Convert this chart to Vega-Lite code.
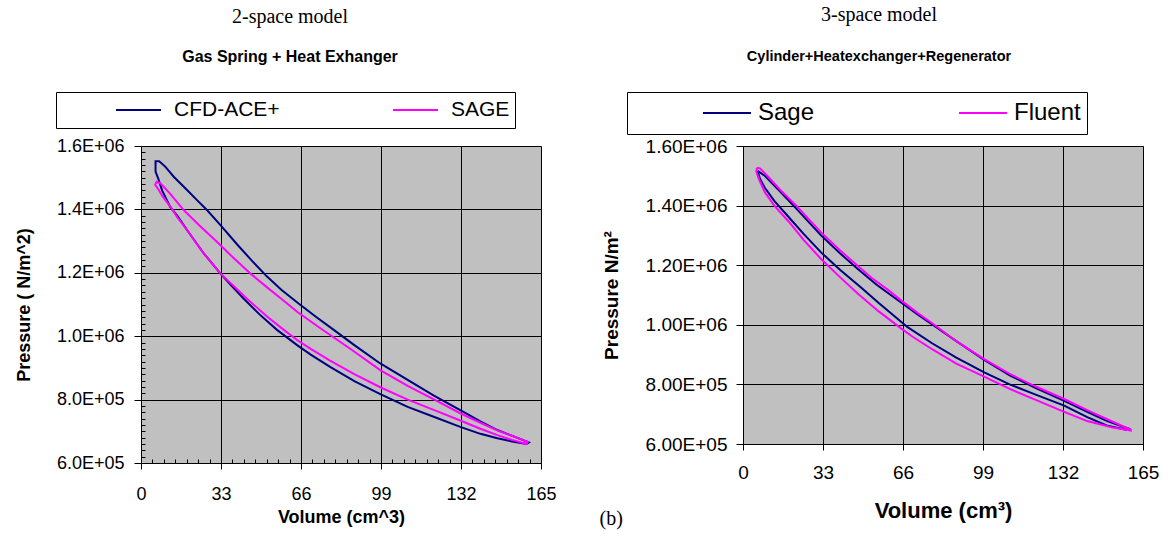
{
  "$schema": "https://vega.github.io/schema/vega-lite/v6.json",
  "background": "white",
  "padding": {"left": 14, "top": 4, "right": 5, "bottom": 5},
  "spacing": 41,
  "resolve": {"scale": {"color": "independent"}, "legend": {"color": "independent"}},
  "datasets": {
    "left": [
      {"s":"CFD-ACE+","i":0,"V":6.0,"P":1545000},{"s":"CFD-ACE+","i":1,"V":6.0,"P":1552000},{"s":"CFD-ACE+","i":2,"V":7.5,"P":1552000},{"s":"CFD-ACE+","i":3,"V":10,"P":1535000},{"s":"CFD-ACE+","i":4,"V":13.5,"P":1503000},{"s":"CFD-ACE+","i":5,"V":19,"P":1461000},{"s":"CFD-ACE+","i":6,"V":23,"P":1430000},{"s":"CFD-ACE+","i":7,"V":27.2,"P":1398000},{"s":"CFD-ACE+","i":8,"V":32.7,"P":1351000},{"s":"CFD-ACE+","i":9,"V":39.6,"P":1290000},{"s":"CFD-ACE+","i":10,"V":46,"P":1236000},{"s":"CFD-ACE+","i":11,"V":52,"P":1188000},{"s":"CFD-ACE+","i":12,"V":58,"P":1146000},{"s":"CFD-ACE+","i":13,"V":65,"P":1103000},{"s":"CFD-ACE+","i":14,"V":72,"P":1062000},{"s":"CFD-ACE+","i":15,"V":79.5,"P":1020000},{"s":"CFD-ACE+","i":16,"V":88,"P":972000},{"s":"CFD-ACE+","i":17,"V":98.7,"P":914000},{"s":"CFD-ACE+","i":18,"V":110,"P":862000},{"s":"CFD-ACE+","i":19,"V":121,"P":812000},{"s":"CFD-ACE+","i":20,"V":131.7,"P":767000},{"s":"CFD-ACE+","i":21,"V":140,"P":731000},{"s":"CFD-ACE+","i":22,"V":147,"P":704000},{"s":"CFD-ACE+","i":23,"V":154,"P":683000},{"s":"CFD-ACE+","i":24,"V":160,"P":665000},{"s":"CFD-ACE+","i":25,"V":159,"P":660000},{"s":"CFD-ACE+","i":26,"V":153,"P":668000},{"s":"CFD-ACE+","i":27,"V":147,"P":678000},{"s":"CFD-ACE+","i":28,"V":140,"P":692000},{"s":"CFD-ACE+","i":29,"V":131.7,"P":714000},{"s":"CFD-ACE+","i":30,"V":121,"P":745000},{"s":"CFD-ACE+","i":31,"V":110,"P":777000},{"s":"CFD-ACE+","i":32,"V":98.7,"P":817000},{"s":"CFD-ACE+","i":33,"V":88,"P":858000},{"s":"CFD-ACE+","i":34,"V":78,"P":903000},{"s":"CFD-ACE+","i":35,"V":70,"P":942000},{"s":"CFD-ACE+","i":36,"V":64.4,"P":972000},{"s":"CFD-ACE+","i":37,"V":56.1,"P":1020000},{"s":"CFD-ACE+","i":38,"V":49,"P":1068000},{"s":"CFD-ACE+","i":39,"V":42.4,"P":1118000},{"s":"CFD-ACE+","i":40,"V":37,"P":1162000},{"s":"CFD-ACE+","i":41,"V":32.7,"P":1198000},{"s":"CFD-ACE+","i":42,"V":25.9,"P":1261000},{"s":"CFD-ACE+","i":43,"V":19,"P":1335000},{"s":"CFD-ACE+","i":44,"V":15,"P":1380000},{"s":"CFD-ACE+","i":45,"V":12.1,"P":1407000},{"s":"CFD-ACE+","i":46,"V":8.7,"P":1460000},{"s":"CFD-ACE+","i":47,"V":7.3,"P":1493000},{"s":"CFD-ACE+","i":48,"V":6,"P":1519000},{"s":"CFD-ACE+","i":49,"V":6,"P":1545000},
      {"s":"SAGE","i":0,"V":5.9,"P":1480000},{"s":"SAGE","i":1,"V":6.5,"P":1487000},{"s":"SAGE","i":2,"V":8,"P":1482000},{"s":"SAGE","i":3,"V":12,"P":1450000},{"s":"SAGE","i":4,"V":17.6,"P":1398000},{"s":"SAGE","i":5,"V":24,"P":1350000},{"s":"SAGE","i":6,"V":31.3,"P":1298000},{"s":"SAGE","i":7,"V":38,"P":1248000},{"s":"SAGE","i":8,"V":45.1,"P":1198000},{"s":"SAGE","i":9,"V":52,"P":1154000},{"s":"SAGE","i":10,"V":58.9,"P":1112000},{"s":"SAGE","i":11,"V":64.4,"P":1077000},{"s":"SAGE","i":12,"V":74,"P":1025000},{"s":"SAGE","i":13,"V":86,"P":962000},{"s":"SAGE","i":14,"V":98.7,"P":893000},{"s":"SAGE","i":15,"V":110,"P":843000},{"s":"SAGE","i":16,"V":121,"P":800000},{"s":"SAGE","i":17,"V":131.7,"P":757000},{"s":"SAGE","i":18,"V":140,"P":727000},{"s":"SAGE","i":19,"V":147,"P":703000},{"s":"SAGE","i":20,"V":154,"P":683000},{"s":"SAGE","i":21,"V":159.5,"P":667000},{"s":"SAGE","i":22,"V":159,"P":660000},{"s":"SAGE","i":23,"V":153,"P":673000},{"s":"SAGE","i":24,"V":147,"P":688000},{"s":"SAGE","i":25,"V":140,"P":708000},{"s":"SAGE","i":26,"V":131.7,"P":734000},{"s":"SAGE","i":27,"V":121,"P":767000},{"s":"SAGE","i":28,"V":110,"P":800000},{"s":"SAGE","i":29,"V":98.7,"P":839000},{"s":"SAGE","i":30,"V":88,"P":880000},{"s":"SAGE","i":31,"V":78,"P":923000},{"s":"SAGE","i":32,"V":70,"P":960000},{"s":"SAGE","i":33,"V":64.4,"P":988000},{"s":"SAGE","i":34,"V":58.9,"P":1020000},{"s":"SAGE","i":35,"V":52,"P":1062000},{"s":"SAGE","i":36,"V":43.7,"P":1118000},{"s":"SAGE","i":37,"V":38,"P":1160000},{"s":"SAGE","i":38,"V":32.7,"P":1198000},{"s":"SAGE","i":39,"V":25,"P":1270000},{"s":"SAGE","i":40,"V":19,"P":1335000},{"s":"SAGE","i":41,"V":15,"P":1375000},{"s":"SAGE","i":42,"V":12.1,"P":1409000},{"s":"SAGE","i":43,"V":9,"P":1440000},{"s":"SAGE","i":44,"V":7,"P":1465000},{"s":"SAGE","i":45,"V":5.9,"P":1477000},{"s":"SAGE","i":46,"V":5.9,"P":1480000}
    ],
    "right": [
      {"s":"Sage","i":0,"V":6,"P":1517000},{"s":"Sage","i":1,"V":9,"P":1500000},{"s":"Sage","i":2,"V":15,"P":1450000},{"s":"Sage","i":3,"V":22,"P":1390000},{"s":"Sage","i":4,"V":32.2,"P":1300000},{"s":"Sage","i":5,"V":40,"P":1240000},{"s":"Sage","i":6,"V":47,"P":1190000},{"s":"Sage","i":7,"V":55,"P":1135000},{"s":"Sage","i":8,"V":65.2,"P":1075000},{"s":"Sage","i":9,"V":72,"P":1035000},{"s":"Sage","i":10,"V":80,"P":990000},{"s":"Sage","i":11,"V":88,"P":945000},{"s":"Sage","i":12,"V":99.5,"P":882000},{"s":"Sage","i":13,"V":110,"P":830000},{"s":"Sage","i":14,"V":121,"P":787000},{"s":"Sage","i":15,"V":132.5,"P":745000},{"s":"Sage","i":16,"V":142,"P":708000},{"s":"Sage","i":17,"V":150,"P":678000},{"s":"Sage","i":18,"V":156,"P":660000},{"s":"Sage","i":19,"V":159,"P":652000},{"s":"Sage","i":20,"V":158,"P":648000},{"s":"Sage","i":21,"V":150,"P":662000},{"s":"Sage","i":22,"V":142,"P":690000},{"s":"Sage","i":23,"V":132.5,"P":729000},{"s":"Sage","i":24,"V":121,"P":765000},{"s":"Sage","i":25,"V":110,"P":800000},{"s":"Sage","i":26,"V":99.5,"P":840000},{"s":"Sage","i":27,"V":88,"P":890000},{"s":"Sage","i":28,"V":78,"P":938000},{"s":"Sage","i":29,"V":67.9,"P":992000},{"s":"Sage","i":30,"V":56,"P":1073000},{"s":"Sage","i":31,"V":48.7,"P":1125000},{"s":"Sage","i":32,"V":40,"P":1185000},{"s":"Sage","i":33,"V":32.2,"P":1243000},{"s":"Sage","i":34,"V":25,"P":1305000},{"s":"Sage","i":35,"V":19,"P":1360000},{"s":"Sage","i":36,"V":12.9,"P":1416000},{"s":"Sage","i":37,"V":9,"P":1460000},{"s":"Sage","i":38,"V":7,"P":1490000},{"s":"Sage","i":39,"V":6,"P":1517000},
      {"s":"Fluent","i":0,"V":5.8,"P":1527000},{"s":"Fluent","i":1,"V":7,"P":1525000},{"s":"Fluent","i":2,"V":10,"P":1500000},{"s":"Fluent","i":3,"V":15.7,"P":1450000},{"s":"Fluent","i":4,"V":22,"P":1400000},{"s":"Fluent","i":5,"V":32.2,"P":1310000},{"s":"Fluent","i":6,"V":40,"P":1250000},{"s":"Fluent","i":7,"V":47.3,"P":1198000},{"s":"Fluent","i":8,"V":53,"P":1158000},{"s":"Fluent","i":9,"V":59.7,"P":1118000},{"s":"Fluent","i":10,"V":65.2,"P":1082000},{"s":"Fluent","i":11,"V":72,"P":1040000},{"s":"Fluent","i":12,"V":78.9,"P":1000000},{"s":"Fluent","i":13,"V":88,"P":945000},{"s":"Fluent","i":14,"V":99.5,"P":885000},{"s":"Fluent","i":15,"V":110,"P":835000},{"s":"Fluent","i":16,"V":121,"P":792000},{"s":"Fluent","i":17,"V":132.5,"P":751000},{"s":"Fluent","i":18,"V":142,"P":714000},{"s":"Fluent","i":19,"V":150,"P":684000},{"s":"Fluent","i":20,"V":156,"P":662000},{"s":"Fluent","i":21,"V":160,"P":648000},{"s":"Fluent","i":22,"V":160,"P":645000},{"s":"Fluent","i":23,"V":152,"P":656000},{"s":"Fluent","i":24,"V":142,"P":677000},{"s":"Fluent","i":25,"V":132.5,"P":708000},{"s":"Fluent","i":26,"V":121,"P":747000},{"s":"Fluent","i":27,"V":110,"P":785000},{"s":"Fluent","i":28,"V":99.5,"P":826000},{"s":"Fluent","i":29,"V":88,"P":870000},{"s":"Fluent","i":30,"V":78,"P":918000},{"s":"Fluent","i":31,"V":70,"P":960000},{"s":"Fluent","i":32,"V":65.2,"P":988000},{"s":"Fluent","i":33,"V":56,"P":1045000},{"s":"Fluent","i":34,"V":47.3,"P":1105000},{"s":"Fluent","i":35,"V":40,"P":1160000},{"s":"Fluent","i":36,"V":32.2,"P":1221000},{"s":"Fluent","i":37,"V":25,"P":1285000},{"s":"Fluent","i":38,"V":19,"P":1345000},{"s":"Fluent","i":39,"V":12.9,"P":1400000},{"s":"Fluent","i":40,"V":9,"P":1445000},{"s":"Fluent","i":41,"V":6.5,"P":1490000},{"s":"Fluent","i":42,"V":5.5,"P":1515000},{"s":"Fluent","i":43,"V":5.8,"P":1527000}
    ]
  },
  "hconcat": [
    {
      "width": 400,
      "height": 317,
      "data": {"name": "left"},
      "title": {
        "text": "2-space model",
        "subtitle": "Gas Spring + Heat Exhanger",
        "anchor": "middle",
        "frame": "group",
        "dx": -51,
        "font": "Liberation Serif",
        "fontSize": 20,
        "fontWeight": "normal",
        "color": "black",
        "subtitleFont": "Liberation Sans",
        "subtitleFontSize": 16,
        "subtitleFontWeight": "bold",
        "subtitleColor": "black",
        "subtitlePadding": 22,
        "offset": 27
      },
      "layer": [
        {
          "mark": {"type": "line", "strokeWidth": 2, "interpolate": "linear"},
          "encoding": {
            "x": {
              "field": "V", "type": "quantitative",
              "scale": {"domain": [0, 165], "nice": false, "zero": false},
              "axis": {
                "orient": "bottom",
                "values": [0, 33, 66, 99, 132, 165],
                "grid": true, "gridColor": "black", "gridWidth": 1, "gridOpacity": 1,
                "domainColor": "black", "domainWidth": 1,
                "tickColor": "black", "tickSize": 6,
                "labelFont": "Liberation Sans", "labelFontSize": 18, "labelColor": "black",
                "labelPadding": 16, "labelFlush": false, "labelOverlap": false,
                "title": "Volume (cm^3)",
                "titleFont": "Liberation Sans", "titleFontSize": 18, "titleFontWeight": "bold", "titleColor": "black",
                "titlePadding": 5
              }
            },
            "y": {
              "field": "P", "type": "quantitative",
              "scale": {"domain": [600000, 1600000], "nice": false, "zero": false},
              "axis": {
                "orient": "left",
                "values": [600000, 800000, 1000000, 1200000, 1400000, 1600000],
                "labelExpr": "replace(upper(format(datum.value, '.1e')), 'E+', 'E+0')",
                "grid": true, "gridColor": "black", "gridWidth": 1, "gridOpacity": 1,
                "domainColor": "black", "domainWidth": 1,
                "tickColor": "black", "tickSize": 7,
                "labelFont": "Liberation Sans", "labelFontSize": 18, "labelColor": "black",
                "labelPadding": 10, "labelOverlap": false,
                "title": "Pressure ( N/m^2)",
                "titleFont": "Liberation Sans", "titleFontSize": 18, "titleFontWeight": "bold", "titleColor": "black",
                "titlePadding": 23
              }
            },
            "color": {
              "field": "s", "type": "nominal",
              "scale": {"domain": ["CFD-ACE+", "SAGE"], "range": ["#000080", "#FF00FF"]},
              "legend": {
                "orient": "none", "legendX": -85, "legendY": -54,
                "direction": "horizontal", "columns": 2, "title": null,
                "strokeColor": "black", "fillColor": "white", "padding": 5,
                "symbolType": "stroke", "symbolSize": 2025, "symbolStrokeWidth": 2, "symbolOffset": 54,
                "labelFont": "Liberation Sans", "labelFontSize": 21, "labelColor": "black", "labelOffset": 12,
                "columnPadding": 58, "clipHeight": 26
              }
            },
            "order": {"field": "i", "type": "quantitative"}
          }
        },
        {
          "mark": {"type": "line", "opacity": 0},
          "encoding": {
            "x": {
              "field": "V", "type": "quantitative",
              "axis": {
                "orient": "bottom",
                "values": [4.714,9.429,14.143,18.857,23.571,28.286,37.714,42.429,47.143,51.857,56.571,61.286,70.714,75.429,80.143,84.857,89.571,94.286,103.714,108.429,113.143,117.857,122.571,127.286,136.714,141.429,146.143,150.857,155.571,160.286],
                "grid": false, "domain": false, "labels": false, "title": null,
                "tickColor": "black", "tickSize": -4
              }
            },
            "y": {
              "field": "P", "type": "quantitative",
              "axis": {
                "orient": "left",
                "values": [620000,640000,660000,680000,700000,720000,740000,760000,780000,820000,840000,860000,880000,900000,920000,940000,960000,980000,1020000,1040000,1060000,1080000,1100000,1120000,1140000,1160000,1180000,1220000,1240000,1260000,1280000,1300000,1320000,1340000,1360000,1380000,1420000,1440000,1460000,1480000,1500000,1520000,1540000,1560000,1580000],
                "grid": false, "domain": false, "labels": false, "title": null,
                "tickColor": "black", "tickSize": -4
              }
            },
            "detail": {"field": "s"},
            "order": {"field": "i", "type": "quantitative"}
          }
        }
      ],
      "resolve": {"axis": {"x": "independent", "y": "independent"}}
    },
    {
      "width": 400,
      "height": 298,
      "data": {"name": "right"},
      "title": {
        "text": "3-space model",
        "subtitle": "Cylinder+Heatexchanger+Regenerator",
        "anchor": "middle",
        "frame": "group",
        "dx": -64,
        "font": "Liberation Serif",
        "fontSize": 20,
        "fontWeight": "normal",
        "color": "black",
        "subtitleFont": "Liberation Sans",
        "subtitleFontSize": 14.5,
        "subtitleFontWeight": "bold",
        "subtitleColor": "black",
        "subtitlePadding": 25,
        "offset": 28
      },
      "layer": [
        {
          "mark": {"type": "line", "strokeWidth": 2, "interpolate": "linear"},
          "encoding": {
            "x": {
              "field": "V", "type": "quantitative",
              "scale": {"domain": [0, 165], "nice": false, "zero": false},
              "axis": {
                "orient": "bottom",
                "values": [0, 33, 66, 99, 132, 165],
                "grid": true, "gridColor": "black", "gridWidth": 1, "gridOpacity": 1,
                "domainColor": "black", "domainWidth": 1,
                "tickColor": "black", "tickSize": 6,
                "labelFont": "Liberation Sans", "labelFontSize": 19, "labelColor": "black",
                "labelPadding": 13, "labelFlush": false, "labelOverlap": false,
                "title": "Volume (cm³)",
                "titleFont": "Liberation Sans", "titleFontSize": 22, "titleFontWeight": "bold", "titleColor": "black",
                "titlePadding": 18
              }
            },
            "y": {
              "field": "P", "type": "quantitative",
              "scale": {"domain": [600000, 1600000], "nice": false, "zero": false},
              "axis": {
                "orient": "left",
                "values": [600000, 800000, 1000000, 1200000, 1400000, 1600000],
                "labelExpr": "replace(upper(format(datum.value, '.2e')), 'E+', 'E+0')",
                "grid": true, "gridColor": "black", "gridWidth": 1, "gridOpacity": 1,
                "domainColor": "black", "domainWidth": 1,
                "tickColor": "black", "tickSize": 7,
                "labelFont": "Liberation Sans", "labelFontSize": 19, "labelColor": "black",
                "labelPadding": 9, "labelOverlap": false,
                "title": "Pressure N/m²",
                "titleFont": "Liberation Sans", "titleFontSize": 19, "titleFontWeight": "bold", "titleColor": "black",
                "titlePadding": 24
              }
            },
            "color": {
              "field": "s", "type": "nominal",
              "scale": {"domain": ["Sage", "Fluent"], "range": ["#000080", "#FF00FF"]},
              "legend": {
                "orient": "none", "legendX": -116, "legendY": -54,
                "direction": "horizontal", "columns": 2, "title": null,
                "strokeColor": "black", "fillColor": "white", "padding": 6,
                "symbolType": "stroke", "symbolSize": 2304, "symbolStrokeWidth": 2, "symbolOffset": 69,
                "labelFont": "Liberation Sans", "labelFontSize": 24, "labelColor": "black", "labelOffset": 6,
                "columnPadding": 74, "clipHeight": 30
              }
            },
            "order": {"field": "i", "type": "quantitative"}
          }
        },
        {
          "mark": {"type": "line", "opacity": 0},
          "encoding": {
            "x": {
              "field": "V", "type": "quantitative",
              "axis": {
                "orient": "bottom",
                "values": [0],
                "grid": false, "domain": false, "labels": false, "ticks": false,
                "title": "(b)",
                "titleFont": "Liberation Serif", "titleFontSize": 20, "titleFontWeight": "normal", "titleColor": "black",
                "titleX": -144, "titleY": 64, "titleAlign": "left", "titleAnchor": "start", "titleBaseline": "top"
              }
            },
            "y": {"field": "P", "type": "quantitative"},
            "detail": {"field": "s"},
            "order": {"field": "i", "type": "quantitative"}
          }
        }
      ],
      "resolve": {"axis": {"x": "independent"}}
    }
  ],
  "config": {
    "view": {"fill": "#C0C0C0", "stroke": "#808080", "strokeWidth": 1},
    "axis": {"labelFont": "Liberation Sans", "titleFont": "Liberation Sans"}
  }
}
